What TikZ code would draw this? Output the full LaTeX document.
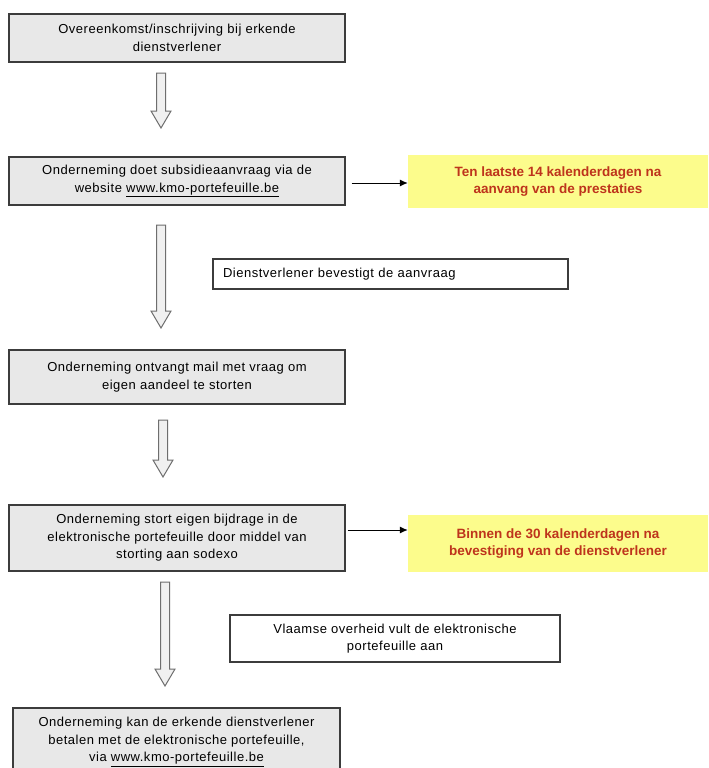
\documentclass[tikz,border=0pt]{standalone}
\usepackage{fontspec}
\setmainfont{Liberation Sans}[LetterSpace=4]
\newfontfamily\boldfont{Liberation Sans Bold}
\usetikzlibrary{arrows.meta,calc}
\definecolor{boxfill}{RGB}{232,232,232}
\definecolor{boxline}{RGB}{60,60,60}
\definecolor{noteyellow}{RGB}{252,252,140}
\definecolor{notered}{RGB}{190,52,28}
\definecolor{arrline}{RGB}{110,110,110}
\definecolor{arrfill}{RGB}{240,240,240}
\newcommand\blockdown[3]{%
  \draw[blockarr] (#1-4.5,#2) -- (#1+4.5,#2) -- (#1+4.5,#3-17) -- (#1+10,#3-17)
    -- (#1,#3) -- (#1-10,#3-17) -- (#1-4.5,#3-17) -- cycle;}
\begin{document}
\begin{tikzpicture}[x=1pt,y=-1pt,
  txt/.style={font=\fontsize{13}{17.5}\selectfont, align=center, inner sep=0pt},
  graybox/.style={txt, draw=boxline, line width=1.2pt, fill=boxfill},
  whitebox/.style={txt, draw=boxline, line width=1.2pt, fill=white},
  note/.style={inner sep=0pt, fill=noteyellow, align=center, text=notered,
    font=\boldfont\fontsize{13.5}{17.5}\selectfont},
  blockarr/.style={draw=arrline, fill=arrfill, line width=1pt},
  thinarr/.style={line width=1pt, -{Latex[length=8pt,width=7pt]}}]
\useasboundingbox (0,0) rectangle (709,768);
\fill[white] (0,0) rectangle (709,768);

\node[graybox, minimum width=336pt, minimum height=48pt] (b1) at (177,38)
  {Overeenkomst/inschrijving bij erkende\\dienstverlener};
\node[graybox, minimum width=336pt, minimum height=48pt] (b2) at (177,181)
  {Onderneming doet subsidieaanvraag via de\\website \underline{www.kmo-portefeuille.be}};
\node[note, minimum width=300pt, minimum height=53pt] (y1) at (558,181.5)
  {Ten laatste 14 kalenderdagen na\\aanvang van de prestaties};
\node[whitebox, minimum width=355pt, minimum height=30pt, align=left,
  text width=335pt] (d1) at (390.5,274)
  {Dienstverlener bevestigt de aanvraag};
\node[graybox, minimum width=336pt, minimum height=54pt] (b3) at (177,377)
  {Onderneming ontvangt mail met vraag om\\eigen aandeel te storten};
\node[graybox, minimum width=336pt, minimum height=66pt] (b4) at (177,538)
  {Onderneming stort eigen bijdrage in de\\elektronische portefeuille door middel van\\storting aan sodexo};
\node[note, minimum width=300pt, minimum height=57pt] (y2) at (558,543.5)
  {Binnen de 30 kalenderdagen na\\bevestiging van de dienstverlener};
\node[whitebox, minimum width=330pt, minimum height=47pt] (v1) at (395,638.5)
  {Vlaamse overheid vult de elektronische\\portefeuille aan};
\node[graybox, minimum width=327pt, minimum height=68pt] (b5) at (176.5,742)
  {Onderneming kan de erkende dienstverlener\\betalen met de elektronische portefeuille,\\via \underline{www.kmo-portefeuille.be}};

\coordinate (s1) at ($(b2.east)+(6,2)$);
\draw[thinarr] (s1) -- (s1 -| y1.west);
\coordinate (s2) at ($(b4.east)+(2,-8)$);
\draw[thinarr] (s2) -- (s2 -| y2.west);

\blockdown{161}{73}{128}
\blockdown{161}{225}{328}
\blockdown{163}{420}{477}
\blockdown{165}{582}{686}
\end{tikzpicture}
\end{document}
